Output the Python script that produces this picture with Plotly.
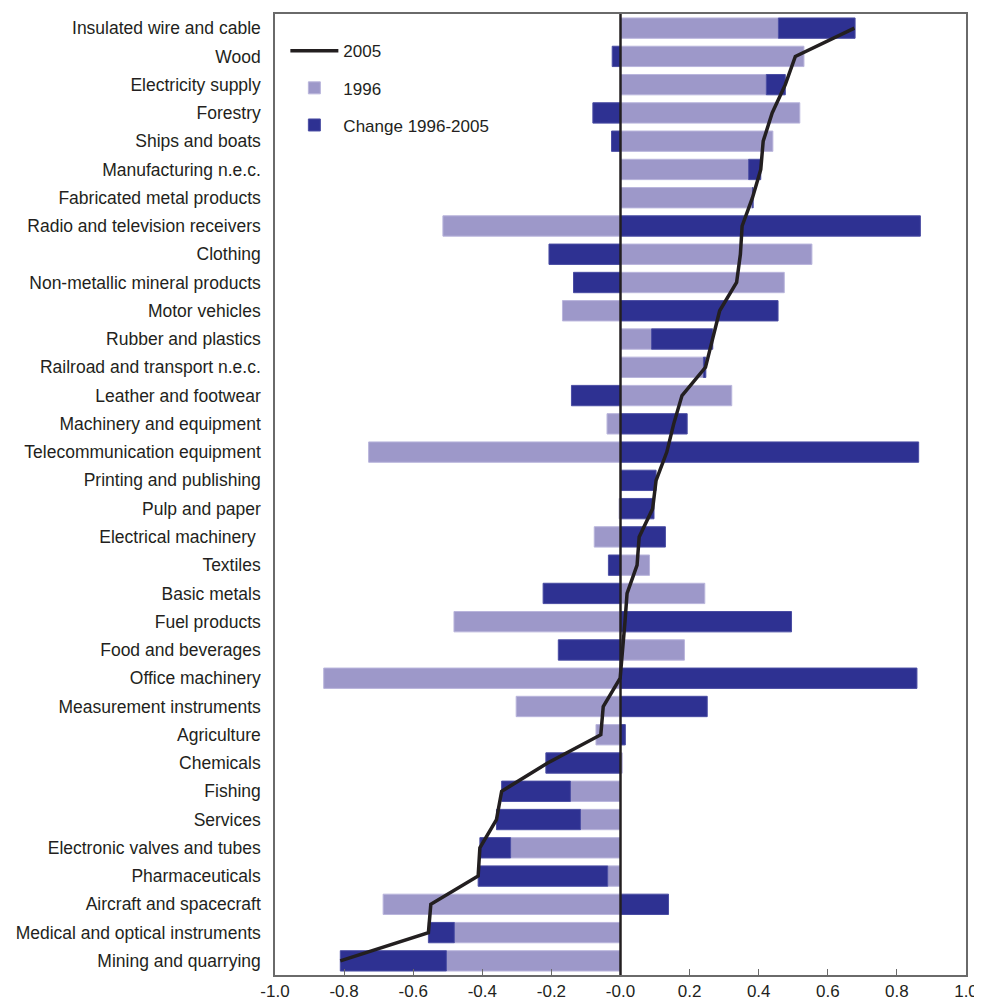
import plotly.graph_objects as go

sectors = [
    'Insulated wire and cable', 'Wood', 'Electricity supply', 'Forestry',
    'Ships and boats', 'Manufacturing n.e.c.', 'Fabricated metal products',
    'Radio and television receivers', 'Clothing', 'Non-metallic mineral products',
    'Motor vehicles', 'Rubber and plastics', 'Railroad and transport n.e.c.',
    'Leather and footwear', 'Machinery and equipment', 'Telecommunication equipment',
    'Printing and publishing', 'Pulp and paper', 'Electrical machinery ',
    'Textiles', 'Basic metals', 'Fuel products', 'Food and beverages',
    'Office machinery', 'Measurement instruments', 'Agriculture', 'Chemicals',
    'Fishing', 'Services', 'Electronic valves and tubes', 'Pharmaceuticals',
    'Aircraft and spacecraft', 'Medical and optical instruments', 'Mining and quarrying',
]

val_1996 = [
    0.457, 0.531, 0.422, 0.519, 0.441, 0.371, 0.382, -0.514, 0.554, 0.474,
    -0.168, 0.090, 0.240, 0.322, -0.039, -0.729, 0.0, -0.004, -0.076, 0.084,
    0.244, -0.482, 0.185, -0.859, -0.302, -0.071, 0.005, -0.145, -0.116,
    -0.318, -0.037, -0.687, -0.481, -0.504,
]

change = [
    0.222, -0.024, 0.055, -0.080, -0.026, 0.035, 0.002, 0.868, -0.207, -0.136,
    0.456, 0.177, 0.007, -0.142, 0.193, 0.863, 0.103, 0.097, 0.130, -0.035,
    -0.224, 0.495, -0.180, 0.858, 0.251, 0.014, -0.216, -0.199, -0.243,
    -0.089, -0.375, 0.139, -0.075, -0.307,
]

val_2005 = [
    0.677, 0.506, 0.477, 0.439, 0.413, 0.406, 0.382, 0.352, 0.347, 0.336,
    0.287, 0.267, 0.246, 0.178, 0.154, 0.134, 0.103, 0.093, 0.054, 0.048,
    0.019, 0.013, 0.005, -0.001, -0.050, -0.057, -0.211, -0.344, -0.359,
    -0.407, -0.412, -0.549, -0.556, -0.811,
]

tick_vals = [-1.0, -0.8, -0.6, -0.4, -0.2, 0.0, 0.2, 0.4, 0.6, 0.8, 1.0]
tick_text = ['-1.0', '-0.8', '-0.6', '-0.4', '-0.2', '-0.0', '0.2', '0.4', '0.6', '0.8', '1.0']

light = '#9d98c9'
dark = '#2e3192'
ink = '#231f20'

fig = go.Figure()

fig.add_trace(go.Bar(
    y=sectors, x=val_1996, orientation='h', name='1996',
    marker=dict(color=light, line=dict(color='#b9b5dc', width=1)),
    legendgroup='b', legendrank=2,
))
fig.add_trace(go.Bar(
    y=sectors, x=change, orientation='h', name='Change 1996-2005',
    marker=dict(color=dark, line=dict(color='#4a4da3', width=1)),
    legendgroup='c', legendrank=3,
))
fig.add_trace(go.Scatter(
    y=sectors, x=val_2005, mode='lines', name='2005',
    line=dict(color=ink, width=3.5),
    legendgroup='a', legendrank=1,
))

# zero line on top of the bars
fig.add_vline(x=0, line=dict(color=ink, width=2.5), layer='above')

# the page body has an 8px margin, so the figure is a bit smaller than the window
fig.update_layout(
    width=974, height=995,
    margin=dict(l=267, r=16, t=6, b=28),
    barmode='relative', bargap=0.28,
    plot_bgcolor='white', paper_bgcolor='white',
    font=dict(family='Liberation Sans, Arial, sans-serif', size=17.5, color=ink),
    showlegend=True,
    legend=dict(
        x=0.015, y=0.98, xanchor='left', yanchor='top',
        bgcolor='rgba(0,0,0,0)', font=dict(size=17),
        tracegroupgap=12, traceorder='grouped', itemwidth=48,
    ),
)

fig.update_xaxes(
    range=[-1.0, 1.0], tickvals=tick_vals, ticktext=tick_text,
    showgrid=False, zeroline=False,
    showline=True, mirror=True, linecolor='#6a6a6a', linewidth=1.5,
    ticks='inside', ticklen=6, tickcolor='#6a6a6a', layer='above traces',
    tickfont=dict(size=17), automargin=False,
)
fig.update_yaxes(
    categoryorder='array', categoryarray=sectors, range=[33.5, -0.5],
    showgrid=False, showline=True, mirror=True, linecolor='#6a6a6a', linewidth=1.5,
    ticks='outside', ticklen=9, tickcolor='rgba(0,0,0,0)', automargin=False,
)

fig.write_html("out.html")
